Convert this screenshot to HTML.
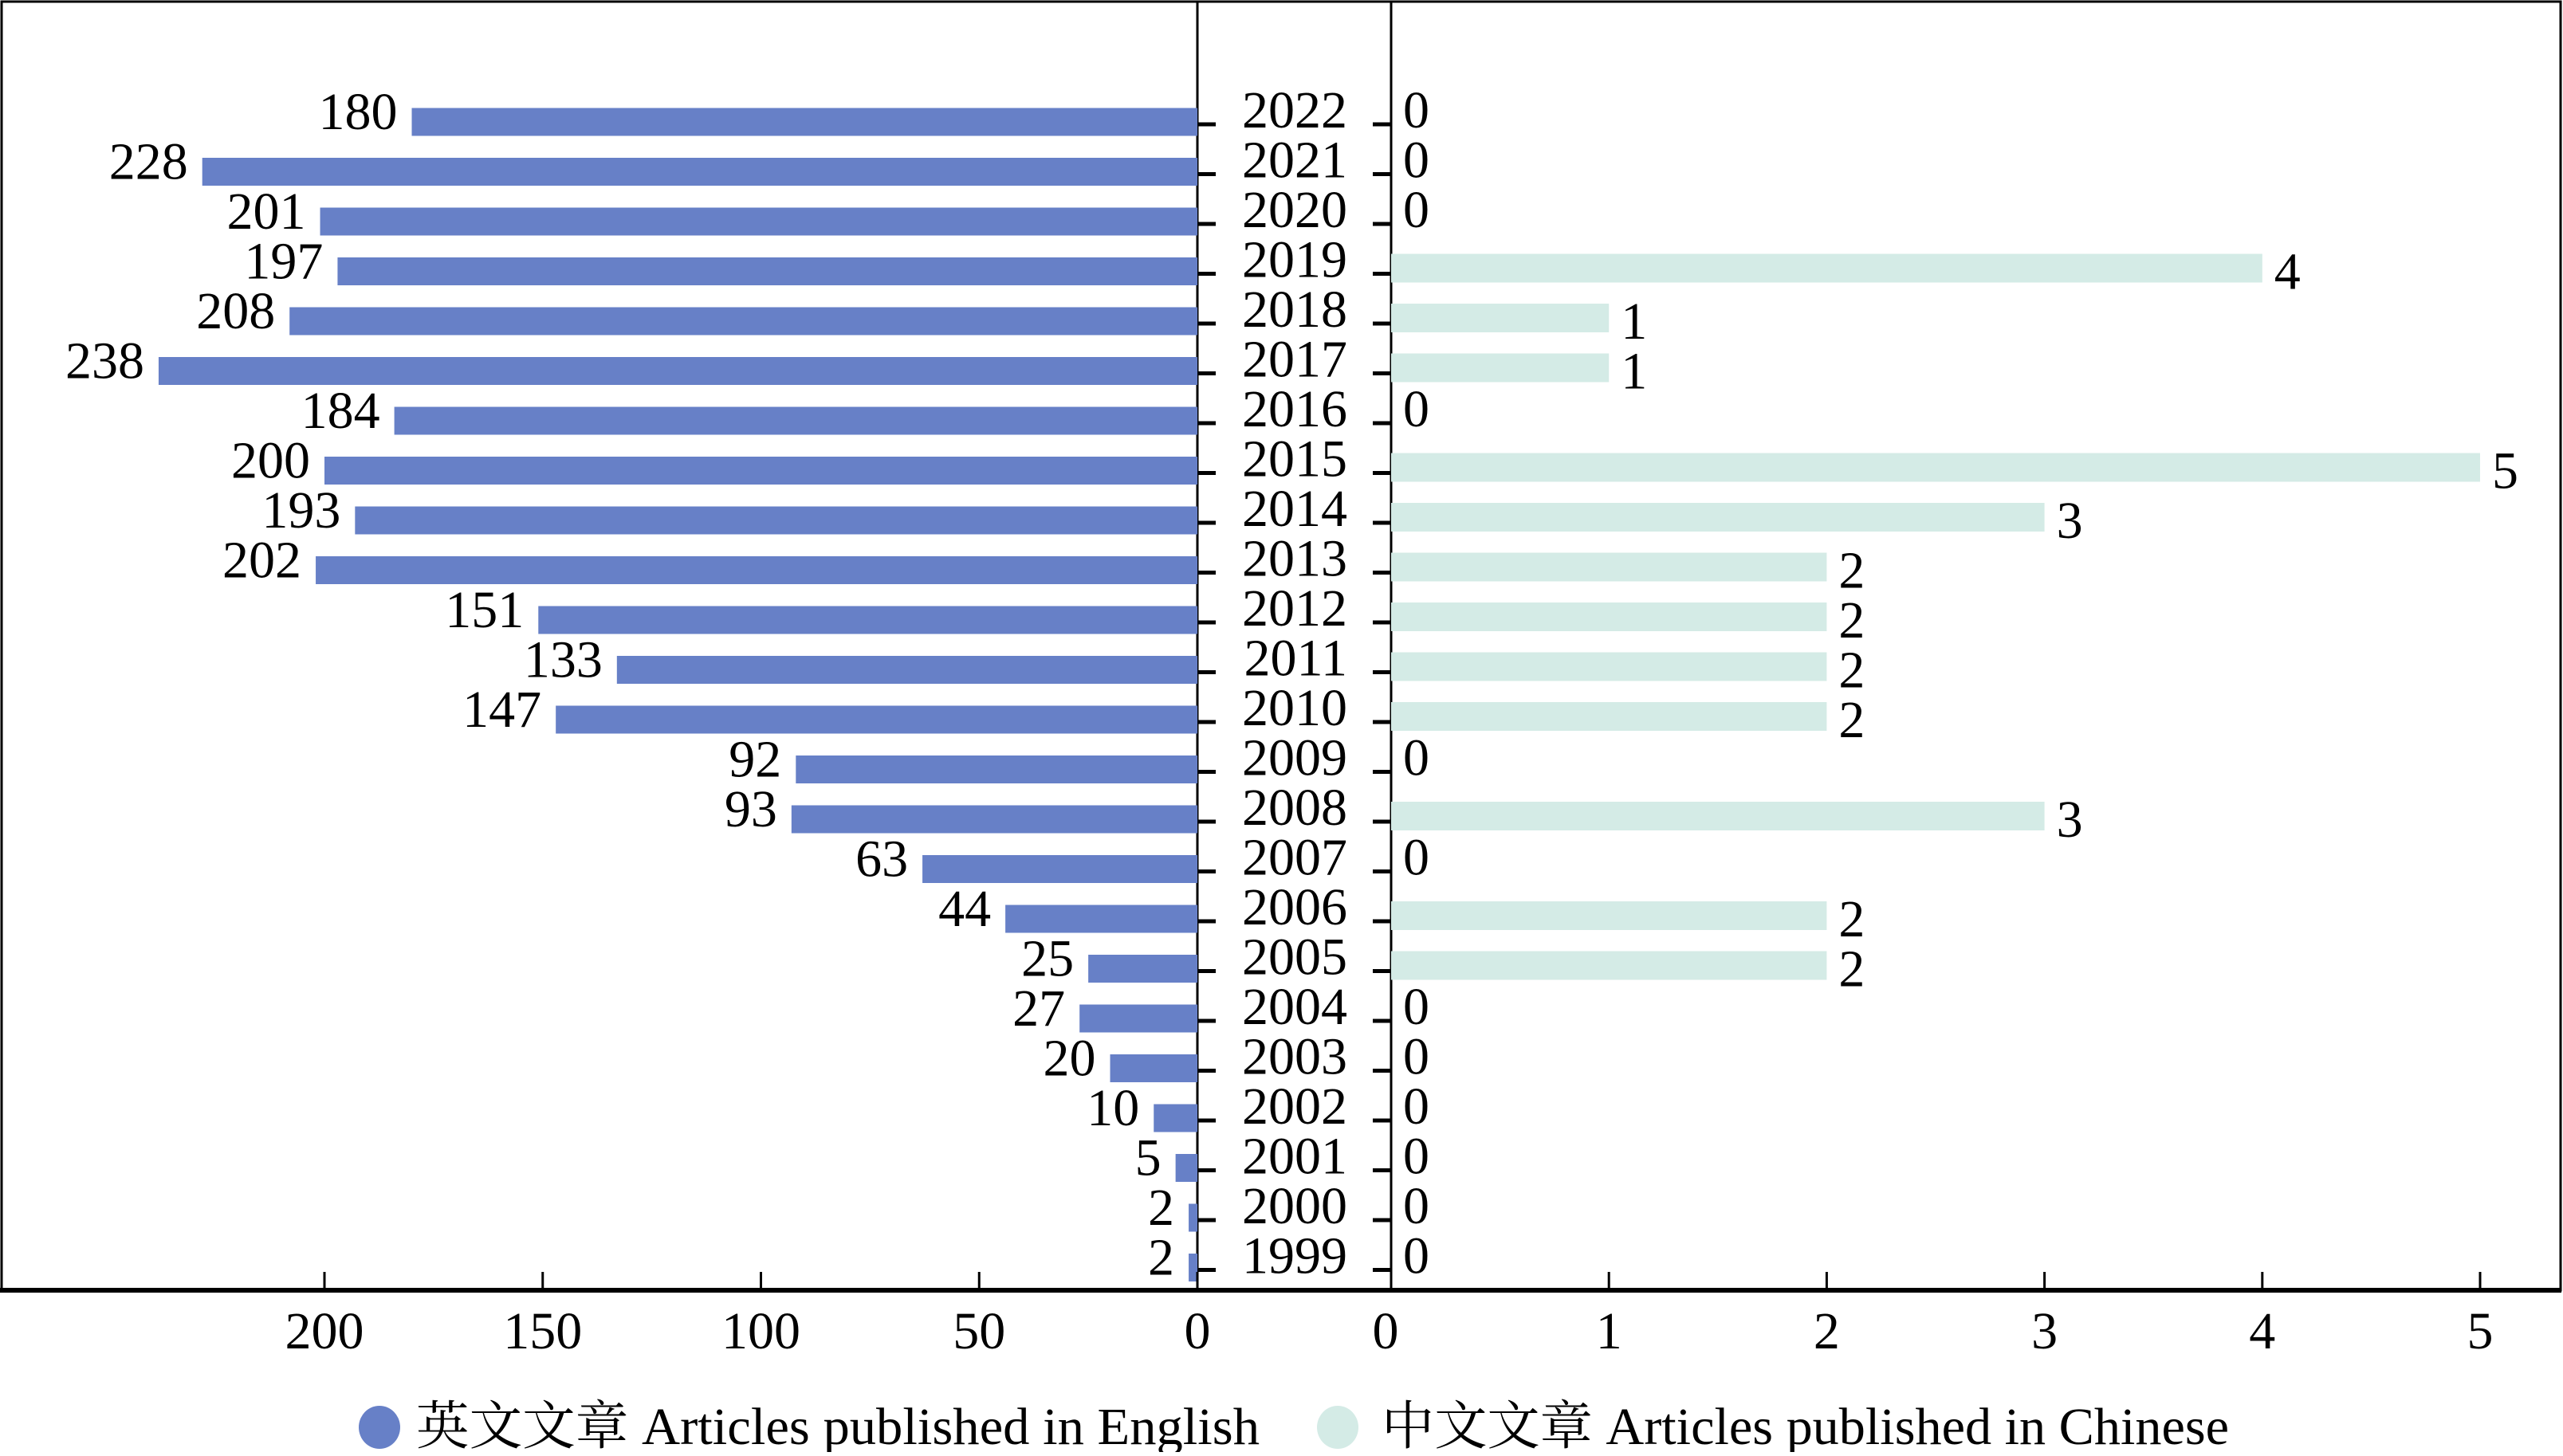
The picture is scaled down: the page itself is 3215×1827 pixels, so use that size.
<!DOCTYPE html>
<html><head><meta charset="utf-8"><style>
html,body{margin:0;padding:0;background:#fff;}
svg text{font-family:"Liberation Serif","Noto Serif CJK SC",serif;fill:#000;}
</style></head><body>
<svg id="chart" width="3215" height="1822" viewBox="0 0 3215 1822" xmlns="http://www.w3.org/2000/svg">
<rect x="2" y="2" width="3210" height="1617" fill="none" stroke="#000" stroke-width="3"/>
<line x1="0" y1="1619" x2="3213" y2="1619" stroke="#000" stroke-width="6"/>
<line x1="1502" y1="2" x2="1502" y2="1619" stroke="#000" stroke-width="3"/>
<line x1="1745" y1="2" x2="1745" y2="1619" stroke="#000" stroke-width="3"/>
<g id="marks"></g>
<g>
<ellipse cx="476" cy="1791" rx="26" ry="27" fill="#6780c7"/>
<text x="522" y="1812" font-size="66" textLength="1058" lengthAdjust="spacingAndGlyphs">英文文章 Articles published in English</text>
<ellipse cx="1678" cy="1791" rx="26" ry="27" fill="#d4ebe6"/>
<text x="1733" y="1812" font-size="66" textLength="1063" lengthAdjust="spacingAndGlyphs">中文文章 Articles published in Chinese</text>
</g>
</svg>
<script>
const years = [2022,2021,2020,2019,2018,2017,2016,2015,2014,2013,2012,2011,2010,2009,2008,2007,2006,2005,2004,2003,2002,2001,2000,1999];
const english = [180,228,201,197,208,238,184,200,193,202,151,133,147,92,93,63,44,25,27,20,10,5,2,2];
const chinese = [0,0,0,4,1,1,0,5,3,2,2,2,2,0,3,0,2,2,0,0,0,0,0,0];
const englishTicks = [200,150,100,50,0];
const chineseTicks = [0,1,2,3,4,5];

const NS = "http://www.w3.org/2000/svg";
const g = document.getElementById('marks');
const xEn = v => 1502 - v * 5.475;
const xCn = v => 1745 + v * 273.2;
const yRow = i => 153 + i * 62.5;
function mk(tag, attrs, txt){
  const e = document.createElementNS(NS, tag);
  for (const k in attrs) e.setAttribute(k, attrs[k]);
  if (txt !== undefined) e.textContent = txt;
  g.appendChild(e);
  return e;
}
years.forEach((yr, i) => {
  const cy = yRow(i);
  const b = mk('rect', {x: xEn(english[i]), y: cy - 17.5, width: xEn(0) - xEn(english[i]), height: 35, fill: '#6780c7'});
  
  
  const vl = mk('text', {x: xEn(english[i]) - 18, y: cy + 9, 'font-size': 66, 'text-anchor': 'end'}, english[i]);
  
  
  const t1 = mk('line', {x1: 1502, y1: cy + 3, x2: 1525, y2: cy + 3, stroke: '#000', 'stroke-width': 5});
  
  
  const t2 = mk('line', {x1: 1722, y1: cy + 3, x2: 1745, y2: cy + 3, stroke: '#000', 'stroke-width': 5});
  
  
  const yl = mk('text', {x: 1690, y: cy + 7, 'font-size': 66, 'text-anchor': 'end'}, yr);
  
  
  if (chinese[i] > 0) {
    const cb = mk('rect', {x: xCn(0), y: cy - 22, width: xCn(chinese[i]) - xCn(0), height: 36, fill: '#d4ebe6'});
    
    
    const cl = mk('text', {x: xCn(chinese[i]) + 15, y: cy + 22, 'font-size': 66}, chinese[i]);
    
    
  } else {
    const cl = mk('text', {x: 1760, y: cy + 7, 'font-size': 66}, chinese[i]);
    
    
  }
});
englishTicks.forEach(v => {
  const t = mk('line', {x1: xEn(v), y1: 1596, x2: xEn(v), y2: 1619, stroke: '#000', 'stroke-width': 3});
  
  
  const l = mk('text', {x: xEn(v), y: 1692, 'font-size': 66, 'text-anchor': 'middle'}, v);
  
  
});
chineseTicks.forEach(v => {
  const t = mk('line', {x1: xCn(v), y1: 1596, x2: xCn(v), y2: 1619, stroke: '#000', 'stroke-width': 3});
  
  
  const l = mk('text', {x: xCn(v) - (v === 0 ? 7 : 0), y: 1692, 'font-size': 66, 'text-anchor': 'middle'}, v);
  
  
});
</script>
</body></html>
